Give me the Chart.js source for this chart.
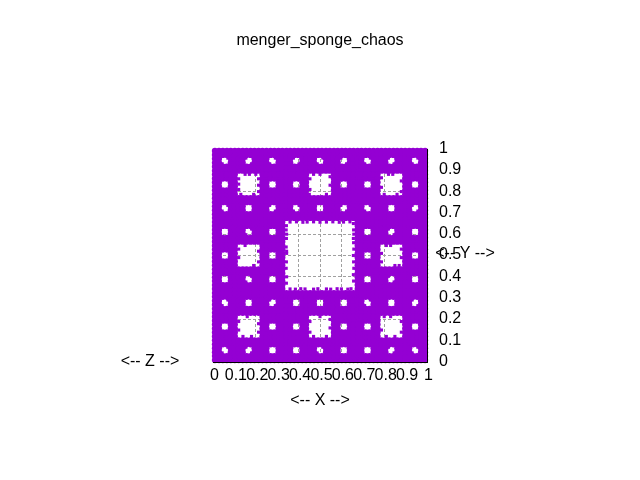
<!DOCTYPE html>
<html><head><meta charset="utf-8">
<style>html,body{margin:0;padding:0;background:#fff}canvas{display:block}</style>
<script src="https://cdn.jsdelivr.net/npm/chart.js@4"></script></head>
<body><canvas id="c" width="640" height="480"></canvas>
<script>
const chartTitle="menger_sponge_chaos";
const xLabel="<-- X -->", yLabel="<-- Y -->", zLabel="<-- Z -->";
const rowFull=[.009,.028,.046,.065,.083,.102,.120,.139,.157,.176,.194,.213,.231,.250,.269,.287,.306,.324,.343,.361,.380,.398,.417,.435,.454,.472,.491,.509,.528,.546,.565,.583,.602,.620,.639,.657,.676,.694,.713,.731,.750,.769,.787,.806,.824,.843,.861,.880,.898,.917,.935,.954,.972,.991];
const rowSmall=[.009,.028,.083,.102,.120,.139,.194,.213,.231,.250,.306,.324,.343,.361,.417,.435,.454,.472,.528,.546,.565,.583,.639,.657,.676,.694,.750,.769,.787,.806,.861,.880,.898,.917,.972,.991];
const rowMedium=[.009,.028,.046,.065,.083,.102,.231,.250,.269,.287,.306,.324,.343,.361,.380,.398,.417,.435,.565,.583,.602,.620,.639,.657,.676,.694,.713,.731,.750,.769,.898,.917,.935,.954,.972,.991];
const rowMediumSmall=[.009,.028,.083,.102,.231,.250,.306,.324,.343,.361,.417,.435,.565,.583,.639,.657,.676,.694,.750,.769,.898,.917,.972,.991];
const rowLarge=[.009,.028,.046,.065,.083,.102,.120,.139,.157,.176,.194,.213,.231,.250,.269,.287,.306,.324,.676,.694,.713,.731,.750,.769,.787,.806,.824,.843,.861,.880,.898,.917,.935,.954,.972,.991];
const rowLargeSmall=[.009,.028,.083,.102,.120,.139,.194,.213,.231,.250,.306,.324,.676,.694,.750,.769,.787,.806,.861,.880,.898,.917,.972,.991];
const rowLargeMedium=[.009,.028,.046,.065,.083,.102,.231,.250,.269,.287,.306,.324,.676,.694,.713,.731,.750,.769,.898,.917,.935,.954,.972,.991];
const rowLargeMediumSmall=[.009,.028,.083,.102,.231,.250,.306,.324,.676,.694,.750,.769,.898,.917,.972,.991];
const yFull=[.009,.028,.083,.102,.231,.250,.306,.324,.676,.694,.750,.769,.898,.917,.972,.991];
const ySmall=[.046,.065,.269,.287,.713,.731,.935,.954];
const yMedium=[.120,.139,.194,.213,.787,.806,.861,.880];
const yMediumSmall=[.157,.176,.824,.843];
const yLarge=[.343,.361,.417,.435,.565,.583,.639,.657];
const yLargeSmall=[.380,.398,.602,.620];
const yLargeMedium=[.454,.472,.528,.546];
const yLargeMediumSmall=[.491,.509];
const blotX=[.044,.068,.155,.179,.266,.290,.377,.401,.488,.512,.599,.623,.710,.734,.821,.845,.932,.956,
.044,.068,.266,.290,.377,.401,.599,.623,.710,.734,.932,.956,
.044,.068,.155,.179,.488,.512,.821,.845,.932,.956,
.044,.068,.266,.290,.710,.734,.932,.956,
.155,.179,.155,.179,.821,.845,.821,.845];
const blotY=[.932,.956,.956,.932,.932,.956,.956,.932,.932,.956,.956,.932,.932,.956,.956,.932,.932,.956,
.710,.734,.734,.710,.710,.734,.734,.710,.710,.734,.734,.710,
.044,.068,.068,.044,.044,.068,.068,.044,.044,.068,
.266,.290,.290,.266,.266,.290,.290,.266,
.377,.401,.599,.623,.401,.377,.623,.599];
const edgeX=[.343,.344,.342,.343,.344,.342,.343,.344,.342,.343,.344,
.657,.656,.658,.657,.656,.658,.657,.656,.658,.657,.656,
.36,.385,.41,.43,.47,.49,.53,.55,.58,.6,.63,.645,
.36,.39,.42,.44,.47,.5,.53,.56,.59,.61,.64,
.12,.12,.12,.213,.213,.213,.15,.19,.17,.13,.2,
.453,.453,.547,.547,.47,.53,.5,.45,
.787,.787,.88,.88,.84,.80,.82,.86,
.12,.12,.213,.213,.15,.19,
.787,.787,.88,.88,.81,.85,.83,.87,
.12,.12,.213,.213,.16,.18,.14,
.453,.453,.547,.547,.5,.47,.53,
.787,.88,.88,.80,.85,.83,.81];
const edgeY=[.37,.4,.44,.47,.51,.54,.58,.6,.62,.64,.52,
.38,.41,.44,.47,.5,.53,.56,.58,.6,.62,.65,
.343,.342,.344,.343,.342,.344,.343,.342,.344,.343,.342,.344,
.657,.658,.656,.657,.658,.656,.657,.658,.656,.657,.658,
.81,.835,.86,.80,.83,.86,.881,.787,.881,.787,.881,
.81,.86,.83,.87,.881,.787,.881,.787,
.82,.865,.80,.85,.881,.787,.881,.787,
.49,.53,.47,.52,.547,.453,
.51,.47,.49,.53,.547,.453,.547,.453,
.15,.19,.14,.18,.213,.12,.12,
.14,.19,.16,.2,.213,.12,.12,
.15,.19,.14,.213,.12,.213,.12];
const rows=[[yFull,rowFull],[ySmall,rowSmall],[yMedium,rowMedium],[yMediumSmall,rowMediumSmall],[yLarge,rowLarge],[yLargeSmall,rowLargeSmall],[yLargeMedium,rowLargeMedium],[yLargeMediumSmall,rowLargeMediumSmall]];
const cloud=[];
rows.forEach(([ys,xs])=>ys.forEach(y=>xs.forEach(x=>cloud.push({x,y}))));
const blots=blotX.map((x,i)=>({x,y:blotY[i]}));
const edges=edgeX.map((x,i)=>({x,y:edgeY[i]}));
const font={family:'"Liberation Sans"',size:16};
new Chart(document.getElementById('c'),{
 type:'scatter',
 data:{datasets:[
  {data:cloud,pointStyle:'circle',pointRadius:3.1,pointBorderWidth:0,backgroundColor:'#9400d3',clip:6},
  {data:blots,pointStyle:'rect',pointRadius:1.8,pointBorderWidth:0,backgroundColor:'#9400d3',clip:6},
  {data:edges,pointStyle:'rect',pointRadius:2.2,pointBorderWidth:0,backgroundColor:'#9400d3',clip:6}
 ]},
 plugins:[{id:'sideLabels',afterDraw(ch){const c=ch.ctx;c.save();c.font='16px "Liberation Sans"';c.fillStyle='#000';c.textAlign='center';c.textBaseline='middle';c.fillText(yLabel,465,254);c.fillText(zLabel,150,362);c.restore();}}],
 options:{
  responsive:false,animation:false,
  layout:{padding:0},
  plugins:{legend:{display:false},tooltip:{enabled:false},
   title:{display:true,text:chartTitle,color:'#000',font:{...font,weight:'normal'},padding:{top:31.4,bottom:98.4}}},
  scales:{
   x:{type:'linear',min:0,max:1,position:'bottom',
    ticks:{stepSize:.1,autoSkip:false,maxRotation:0,color:'#000',font,padding:4,labelOffset:1.5,callback:v=>String(Math.round(v*10)/10)},
    grid:{color:'#a0a0a0',lineWidth:1,drawTicks:false},
    border:{display:true,color:'#000',z:1,dash:[3,2]},
    title:{display:true,text:xLabel,color:'#000',font,padding:{top:0,bottom:69.4}},
    afterFit(s){s.height=118;}},
   y:{type:'linear',min:0,max:1,position:'right',
    ticks:{stepSize:.1,autoSkip:false,color:'#000',font,padding:12,labelOffset:-0.5,callback:v=>String(Math.round(v*10)/10)},
    grid:{color:'#a0a0a0',lineWidth:1,drawTicks:false},
    border:{display:true,color:'#000',z:1,dash:[3,2]},
    afterFit(s){s.width=213;}},
   spacer:{type:'linear',position:'left',display:true,ticks:{display:false},grid:{display:false},border:{display:false},afterFit(s){s.width=213;}}
  }
 }
});
</script></body></html>
